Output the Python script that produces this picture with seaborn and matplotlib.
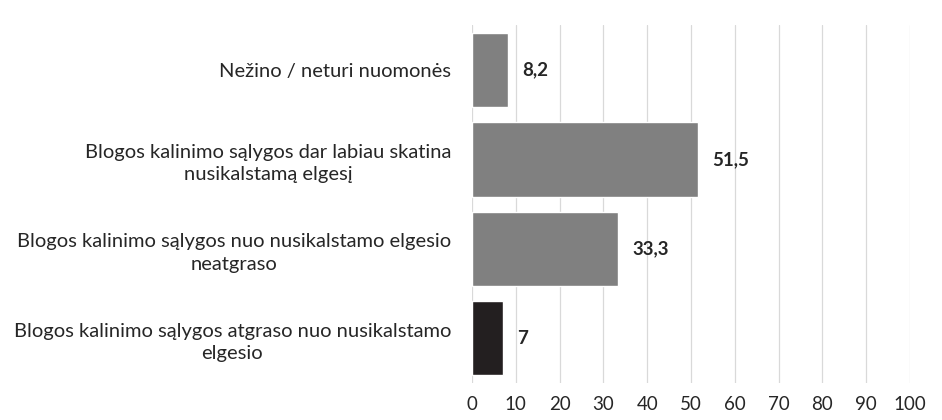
import matplotlib
matplotlib.use("Agg")
import matplotlib.pyplot as plt
import seaborn as sns
import pandas as pd

# Chart data (top to bottom)
categories = [
    "Nežino / neturi nuomonės",
    "Blogos kalinimo sąlygos dar labiau skatina\nnusikalstamą elgesį",
    "Blogos kalinimo sąlygos nuo nusikalstamo elgesio\nneatgraso",
    "Blogos kalinimo sąlygos atgraso nuo nusikalstamo\nelgesio",
]
values = [8.2, 51.5, 33.3, 7]
value_labels = ["8,2", "51,5", "33,3", "7"]
bar_colors = ["#808080", "#808080", "#808080", "#231f20"]
x_ticks = [0, 10, 20, 30, 40, 50, 60, 70, 80, 90, 100]

sns.set_theme(style="white")
plt.rcParams["font.family"] = ["Lato", "DejaVu Sans"]

df = pd.DataFrame({"category": categories, "value": values})

fig, ax = plt.subplots(figsize=(9.42, 4.2), dpi=100)
fig.subplots_adjust(left=0.501, right=0.966, top=0.94, bottom=0.088)

sns.barplot(
    data=df, x="value", y="category", hue="category",
    palette=bar_colors, legend=False, width=0.83, orient="h", ax=ax,
    saturation=1,
)

for i, (v, lab) in enumerate(zip(values, value_labels)):
    ax.annotate(lab, (v, i), xytext=(10.5, 0), textcoords="offset points",
                ha="left", va="center", fontsize=13.5, fontweight="bold",
                color="#262626")

ax.set_xlim(0, 100)
ax.set_ylim(3.5, -0.5)
ax.set_xticks(x_ticks)
ax.set_xticklabels([str(t) for t in x_ticks], fontsize=13.5, color="#262626")
ax.xaxis.grid(True, color="#d9d9d9", linewidth=0.9)
ax.set_axisbelow(True)
for s in ax.spines.values():
    s.set_visible(False)
ax.axvline(0, color="#d9d9d9", linewidth=1.3, zorder=0)
ax.set_xlabel("")
ax.set_ylabel("")
ax.tick_params(axis="x", length=0, pad=9)
ax.tick_params(axis="y", length=0, pad=15)
for t in ax.get_yticklabels():
    t.set_fontsize(14.5)
    t.set_color("#262626")
    t.set_multialignment("center")
    t.set_linespacing(1.4)

fig.savefig("out.png", dpi=100)
